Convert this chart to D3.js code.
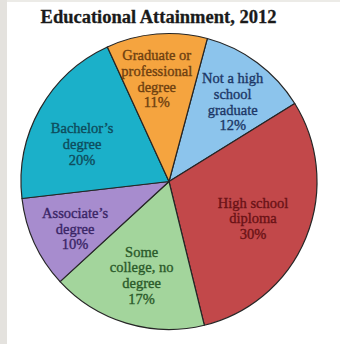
<!DOCTYPE html>
<html>
<head>
<meta charset="utf-8">
<script src="https://cdn.jsdelivr.net/npm/d3@7"></script>
<style>
  html, body { margin: 0; padding: 0; background: #ffffff; }
  svg { display: block; }
</style>
</head>
<body>
<script>
// Educational attainment shares, 2012 (percent), listed clockwise
const categories = [
  ["Not a high", "school", "graduate"],
  ["High school", "diploma"],
  ["Some", "college, no", "degree"],
  ["Associate\u2019s", "degree"],
  ["Bachelor\u2019s", "degree"],
  ["Graduate or", "professional", "degree"]
];
const values = [12, 30, 17, 10, 20, 11];
const valueLabels = values.map(v => v + "%");

// fill and text colours per slice
const fills = ["#8cc4ec", "#c2484a", "#a3d59c", "#a78cce", "#1bb0c9", "#f5a43f"];
const inks  = ["#1c3766", "#6a1216", "#2b5a2a", "#3a2566", "#0e4c5c", "#6e4010"];
// small per-slice nudges of the label block (radius fraction, angle in degrees)
const labelRadius = [0.69, 0.62, 0.66, 0.71, 0.64, 0.70];
const labelTurn   = [2, 1.5, -0.5, -2, -6, -2];

const W = 340, H = 344;
const cx = 169, cy = 181.5, R = 148;

const svg = d3.select("body").append("svg")
  .attr("width", W).attr("height", H);

// page frame edges
svg.append("rect").attr("x", 0).attr("y", 0).attr("width", 7).attr("height", H).attr("fill", "#e4e2de");
svg.append("rect").attr("x", 7).attr("y", 0).attr("width", W - 7).attr("height", 2).attr("fill", "#ecebe7");

svg.append("text")
  .attr("x", 158.5).attr("y", 23)
  .attr("text-anchor", "middle")
  .attr("font-family", "Liberation Serif, Times New Roman, serif")
  .attr("font-weight", "bold")
  .attr("font-size", 18.5)
  .attr("fill", "#1a1a1a")
  .attr("stroke", "#1a1a1a")
  .attr("stroke-width", 0.3)
  .text("Educational Attainment, 2012");

const pie = d3.pie().sort(null).value(d => d)
  .startAngle(15 * Math.PI / 180)
  .endAngle(375 * Math.PI / 180);
const arcs = pie(values);
const arc = d3.arc().innerRadius(0).outerRadius(R);

const g = svg.append("g").attr("transform", `translate(${cx},${cy})`);

g.selectAll("path.slice").data(arcs).join("path")
  .attr("class", "slice")
  .attr("d", arc)
  .attr("fill", (d, i) => fills[i])
  .attr("stroke", "#262626")
  .attr("stroke-width", 1.2)
  .attr("stroke-linejoin", "round");

const lineH = 15.8;
arcs.forEach((d, i) => {
  const mid = (d.startAngle + d.endAngle) / 2 + labelTurn[i] * Math.PI / 180;
  const r = R * labelRadius[i];
  const x = r * Math.sin(mid), y = -r * Math.cos(mid);
  const lines = categories[i].concat([valueLabels[i]]);
  const t = g.append("text")
    .attr("text-anchor", "middle")
    .attr("font-family", "Liberation Serif, Times New Roman, serif")
    .attr("font-size", 14.5)
    .attr("fill", inks[i])
    .attr("stroke", inks[i])
    .attr("stroke-width", 0.35);
  lines.forEach((s, k) => {
    t.append("tspan")
      .attr("x", x)
      .attr("y", y + (k - (lines.length - 1) / 2) * lineH + 5)
      .text(s);
  });
});
</script>
</body>
</html>
